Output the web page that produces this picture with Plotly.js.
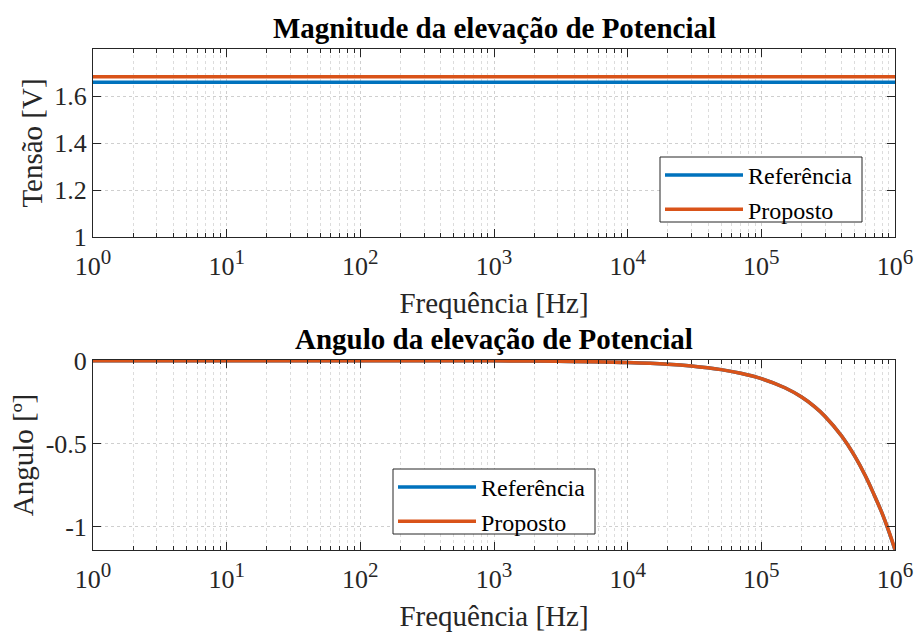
<!DOCTYPE html>
<html>
<head>
<meta charset="utf-8">
<script src="https://cdn.plot.ly/plotly-3.0.1.min.js"></script>
<style>html,body{margin:0;padding:0;background:#fff;}#chart{width:915px;height:632px;}</style>
</head>
<body>
<div id="chart"></div>
<script>
// ---- data ----
const freqMag = [1, 1e6];
const magReferencia = [1.658, 1.658];
const magProposto = [1.682, 1.682];

const freqAng = [1, 10, 100, 1000, 3000, 1e4, 2e4, 3e4, 5e4, 7e4, 1e5, 1.5e5, 2e5, 2.5e5, 3e5, 4e5, 5e5, 6e5, 7e5, 8e5, 9e5, 1e6];
const angReferencia = [0, 0, -0.0001, -0.001, -0.003, -0.011, -0.021, -0.032, -0.054, -0.076, -0.108, -0.163, -0.219, -0.277, -0.336, -0.455, -0.575, -0.693, -0.810, -0.918, -1.030, -1.140];
const angProposto = [0, 0, -0.0001, -0.001, -0.003, -0.011, -0.021, -0.032, -0.054, -0.076, -0.108, -0.163, -0.219, -0.277, -0.336, -0.455, -0.575, -0.693, -0.810, -0.918, -1.028, -1.137];

const xTickVals = [1, 10, 100, 1000, 1e4, 1e5, 1e6];
const xExponents = ['0', '1', '2', '3', '4', '5', '6'];
const magTickVals = [1, 1.2, 1.4, 1.6];
const magTickText = ['1', '1.2', '1.4', '1.6'];
const angTickVals = [-1, -0.5, 0];
const angTickText = ['-1', '-0.5', '0'];

const seriesNames = ['Referência', 'Proposto'];
const titles = ['Magnitude da elevação de Potencial', 'Angulo da elevação de Potencial'];
const xTitle = 'Frequência [Hz]';
const yTitles = ['Tensão [V]', 'Angulo [º]'];

// ---- styling ----
const BLUE = '#0072BD', ORANGE = '#D95319', AX = '#262626';
const FONT = "'Liberation Serif', 'Times New Roman', Times, serif";
const LW = 3.5;
const xTickText = xExponents.map(e => '10<sup><span style="font-size:21px">' + e + '</span></sup>');

const traces = [
  {x: freqMag, y: magReferencia, name: seriesNames[0], type: 'scatter', mode: 'lines', line: {color: BLUE, width: LW}, xaxis: 'x', yaxis: 'y', legend: 'legend'},
  {x: freqMag, y: magProposto, name: seriesNames[1], type: 'scatter', mode: 'lines', line: {color: ORANGE, width: LW}, xaxis: 'x', yaxis: 'y', legend: 'legend'},
  {x: freqAng, y: angReferencia, name: seriesNames[0], type: 'scatter', mode: 'lines', line: {color: BLUE, width: LW, shape: 'spline'}, xaxis: 'x2', yaxis: 'y2', legend: 'legend2'},
  {x: freqAng, y: angProposto, name: seriesNames[1], type: 'scatter', mode: 'lines', line: {color: ORANGE, width: LW, shape: 'spline'}, xaxis: 'x2', yaxis: 'y2', legend: 'legend2'}
];

function xAxis(anchor) {
  return {
    type: 'log', range: [0, 6], anchor: anchor,
    tickmode: 'array', tickvals: xTickVals, ticktext: xTickText,
    ticks: 'inside', ticklen: 8, tickcolor: AX, tickwidth: 1, ticklabelstandoff: 6,
    showline: true, linecolor: AX, linewidth: 1, mirror: 'ticks',
    showgrid: true, gridcolor: '#cfcfcf', griddash: 'dot', gridwidth: 1,
    minor: {dtick: 'D1', ticks: 'inside', ticklen: 4, tickcolor: AX, showgrid: true, gridcolor: '#dcdcdc', griddash: 'dot', gridwidth: 1},
    tickfont: {family: FONT, size: 26, color: AX},
    title: {text: xTitle, font: {family: FONT, size: 29, color: AX}, standoff: 12},
    zeroline: false, automargin: false
  };
}
function yAxis(anchor, domain, range, vals, text, title) {
  return {
    domain: domain, range: range, anchor: anchor,
    tickmode: 'array', tickvals: vals, ticktext: text,
    ticks: 'inside', ticklen: 8, tickcolor: AX, tickwidth: 1,
    showline: true, linecolor: AX, linewidth: 1, mirror: 'ticks',
    showgrid: true, gridcolor: '#cfcfcf', griddash: 'dot', gridwidth: 1,
    tickfont: {family: FONT, size: 26, color: AX},
    title: {text: title, font: {family: FONT, size: 29, color: AX}, standoff: 3},
    zeroline: false, automargin: false
  };
}

const plotL = 93, plotR = 895, plotT = 49, plotB = 550, W = 915, H = 632;
const ph = plotB - plotT, pw = plotR - plotL;
const topDomain = [(plotB - 237) / ph, 1];
const botDomain = [0, (plotB - 360) / ph];
const px = v => (v - plotL) / pw;
const py = v => (plotB - v) / ph;

const legendCommon = {
  bgcolor: 'rgba(0,0,0,0)', borderwidth: 0,
  font: {family: FONT, size: 24, color: '#000'}, itemwidth: 78, tracegroupgap: 0
};

const layout = {
  width: W, height: H,
  margin: {l: plotL, r: W - plotR, t: plotT, b: H - plotB, pad: 0},
  paper_bgcolor: '#ffffff', plot_bgcolor: '#ffffff',
  font: {family: FONT, color: AX},
  showlegend: true,
  xaxis: xAxis('y'),
  yaxis: yAxis('x', topDomain, [1, 1.8], magTickVals, magTickText, yTitles[0]),
  xaxis2: xAxis('y2'),
  yaxis2: yAxis('x2', botDomain, [-1.14, 0.004], angTickVals, angTickText, yTitles[1]),
  legend: Object.assign({x: px(660), xanchor: 'left', y: py(153), yanchor: 'top'}, legendCommon),
  legend2: Object.assign({x: px(393), xanchor: 'left', y: py(465), yanchor: 'top'}, legendCommon),
  shapes: [
    {type: 'rect', xref: 'paper', yref: 'paper', x0: px(660), x1: px(862), y0: py(222), y1: py(157), fillcolor: '#ffffff', line: {color: AX, width: 1}, layer: 'above'},
    {type: 'rect', xref: 'paper', yref: 'paper', x0: px(393), x1: px(595), y0: py(534), y1: py(469), fillcolor: '#ffffff', line: {color: AX, width: 1}, layer: 'above'}
  ],
  annotations: [
    {text: '<b>' + titles[0] + '</b>', xref: 'paper', yref: 'paper', x: 0.5, y: topDomain[1], yshift: 3, xanchor: 'center', yanchor: 'bottom', showarrow: false, font: {family: FONT, size: 29, color: '#000'}},
    {text: '<b>' + titles[1] + '</b>', xref: 'paper', yref: 'paper', x: 0.5, y: botDomain[1], yshift: 3, xanchor: 'center', yanchor: 'bottom', showarrow: false, font: {family: FONT, size: 29, color: '#000'}}
  ]
};

Plotly.newPlot('chart', traces, layout, {displayModeBar: false, staticPlot: true});
</script>
</body>
</html>
